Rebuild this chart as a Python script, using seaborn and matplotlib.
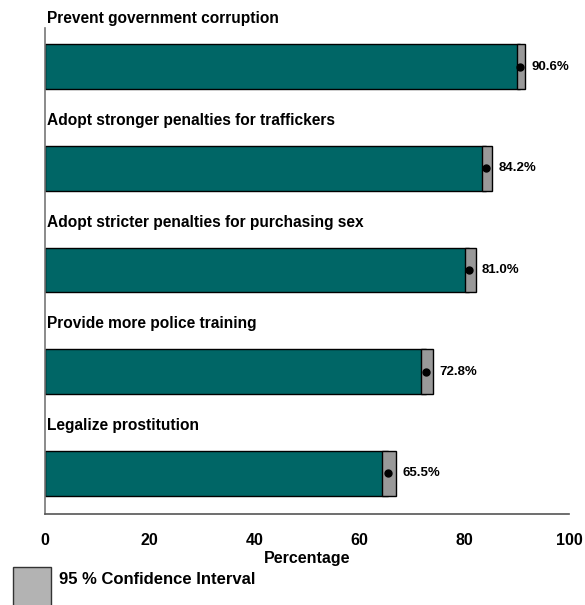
import pandas as pd
import matplotlib.pyplot as plt
import seaborn as sns
from matplotlib.patches import Rectangle

# Survey items and estimates (percent) with 95% CI bounds
items = ['Prevent government corruption',
         'Adopt stronger penalties for traffickers',
         'Adopt stricter penalties for purchasing sex',
         'Provide more police training',
         'Legalize prostitution']
pct = [90.6, 84.2, 81.0, 72.8, 65.5]
ci_low = [90.0, 83.4, 80.1, 71.8, 64.4]
ci_high = [91.6, 85.4, 82.2, 74.1, 67.0]
x_ticks = [0, 20, 40, 60, 80, 100]

df = pd.DataFrame({'item': items, 'pct': pct, 'lo': ci_low, 'hi': ci_high})

sns.set_style('white')
plt.rcParams['font.family'] = ['Liberation Sans', 'DejaVu Sans']
plt.rcParams['font.weight'] = 'bold'
plt.rcParams['text.color'] = 'black'
plt.rcParams['axes.labelcolor'] = 'black'
plt.rcParams['xtick.color'] = 'black'

fig = plt.figure(figsize=(5.85, 6.05), dpi=100)
ax = fig.add_axes([45 / 585, 1 - 514 / 605, 524 / 585, 486 / 605])

teal = '#006666'
sns.barplot(data=df, x='pct', y='item', orient='h', color=teal, width=0.44,
            edgecolor='black', linewidth=1, saturation=1, ax=ax)

# CI boxes, dots and value labels
for i, row in df.iterrows():
    ax.barh(i, row['hi'] - row['lo'], left=row['lo'], height=0.44,
            color='#999999', edgecolor='black', linewidth=1, zorder=3)
    ax.plot(row['pct'], i, 'o', color='black', markersize=5, zorder=4)
    ax.text(row['hi'] + 1.2, i, f"{row['pct']:.1f}%", va='center', ha='left',
            fontsize=9.5, fontweight='bold')
    ax.text(0.4, i - 0.47, row['item'], va='center', ha='left',
            fontsize=11.2, fontweight='bold')

ax.set_xlim(0, 100)
ax.set_ylim(4.40, -0.38)
ax.set_xticks(x_ticks)
ax.set_xticklabels([str(t) for t in x_ticks], fontsize=11.5, fontweight='bold')
ax.set_yticks([])
ax.set_ylabel('')
ax.set_xlabel('Percentage', fontsize=11.5, fontweight='bold', labelpad=2)
ax.tick_params(axis='x', direction='out', length=6, width=1, color='#555555', pad=8)
for side in ['top', 'right']:
    ax.spines[side].set_visible(False)
ax.spines['left'].set_color('#777777')
ax.spines['bottom'].set_color('#555555')
ax.spines['left'].set_linewidth(1.2)
ax.spines['bottom'].set_linewidth(1.2)

# legend swatch at bottom-left
fig.patches.append(Rectangle((13 / 585, 1 - 625 / 605), 38 / 585, 58 / 605,
                             transform=fig.transFigure, facecolor='#b3b3b3',
                             edgecolor='#333333', linewidth=1))
fig.text(59 / 585, 1 - 579 / 605, '95 % Confidence Interval', va='center',
         ha='left', fontsize=12, fontweight='bold')

fig.savefig('out.png', dpi=100)
